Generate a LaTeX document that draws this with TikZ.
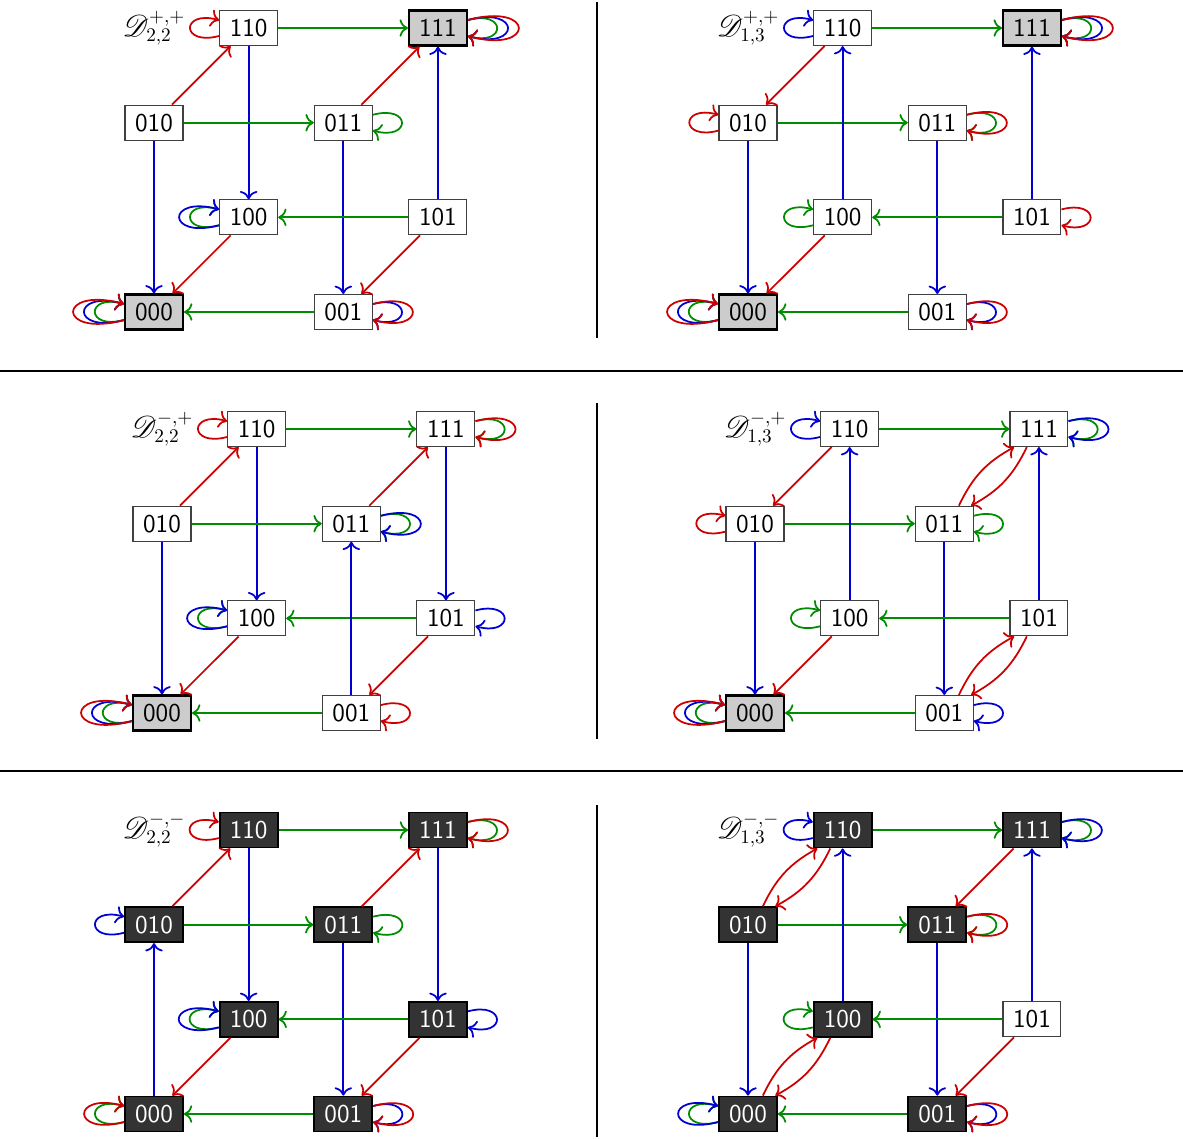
\documentclass[tikz,border=0pt]{standalone}
\usepackage{fontspec}
\usepackage{mathrsfs}
\usetikzlibrary{arrows.meta}
\definecolor{cR}{RGB}{204,0,0}
\definecolor{cG}{RGB}{0,140,0}
\definecolor{cB}{RGB}{0,0,210}
\newcommand\cubefont{\fontsize{14.6}{17}\selectfont\sffamily}
\newcommand\labfont{\fontsize{16}{19}\selectfont}
\newcommand\cubenodes[9]{%
 \node[#2] (#1000) at (0,0) {000};
 \node[#3] (#1001) at (2,0) {001};
 \node[#4] (#1010) at (0,2) {010};
 \node[#5] (#1011) at (2,2) {011};
 \node[#6] (#1100) at (1,1) {100};
 \node[#7] (#1101) at (3,1) {101};
 \node[#8] (#1110) at (1,3) {110};
 \node[#9] (#1111) at (3,3) {111};
}
\newcommand\cubeloopR[3]{\draw[#2] (#1.15) .. controls +(15:#3) and +(-15:#3) .. (#1.-15);}
\newcommand\cubeloopL[3]{\draw[#2] (#1.195) .. controls +(195:#3) and +(165:#3) .. (#1.165);}
\tikzset{
 nd/.style={draw=black!75, line width=0.6pt, fill=white, minimum width=1.16cm, minimum height=0.7cm, inner sep=0pt, font=\cubefont},
 fp/.style={nd, draw=black, line width=1.2pt, fill=black!20},
 dk/.style={nd, draw=black, line width=1pt, fill=black!80, text=white},
 lab/.style={font=\labfont, inner sep=0pt},
 E/.style={line width=1pt, -{To[scale=1.25]}},
 R/.style={E, draw=cR},
 G/.style={E, draw=cG},
 B/.style={E, draw=cB},
 sep/.style={line width=1.2pt, draw=black},
}
\begin{document}
\begin{tikzpicture}[x=0.02cm, y=-0.02cm]
\useasboundingbox (0,0) rectangle (1183,1139);
% separators
\draw[sep] (597,2) -- (597,338);
\draw[sep] (597,403) -- (597,739);
\draw[sep] (597,805) -- (597,1137);
\draw[sep] (0,371) -- (1183,371);
\draw[sep] (0,771) -- (1183,771);

% ---------- Panel 1 ----------
\begin{scope}[shift={(154,312)}, x=1.8934cm, y=1.8934cm]
\cubenodes{a}{fp}{nd}{nd}{nd}{nd}{nd}{nd}{fp}
\node[lab] (alab) at (0,3) {$\mathscr{D}^{+,+}_{2,2}$};
\draw[R] (a010) -- (a110);
\draw[G] (a110) -- (a111);
\draw[B] (a110) -- (a100);
\draw[G] (a010) -- (a011);
\draw[B] (a010) -- (a000);
\draw[R] (a011) -- (a111);
\draw[B] (a011) -- (a001);
\draw[R] (a100) -- (a000);
\draw[G] (a101) -- (a100);
\draw[B] (a101) -- (a111);
\draw[R] (a101) -- (a001);
\draw[G] (a001) -- (a000);
\cubeloopL{a110}{R}{0.8cm}
\cubeloopR{a111}{G}{0.8cm}\cubeloopR{a111}{B}{1.1cm}\cubeloopR{a111}{R}{1.4cm}
\cubeloopR{a011}{G}{0.8cm}
\cubeloopL{a100}{G}{0.8cm}\cubeloopL{a100}{B}{1.1cm}
\cubeloopL{a000}{G}{0.8cm}\cubeloopL{a000}{B}{1.1cm}\cubeloopL{a000}{R}{1.4cm}
\cubeloopR{a001}{B}{0.8cm}\cubeloopR{a001}{R}{1.1cm}
\end{scope}

% ---------- Panel 2 ----------
\begin{scope}[shift={(748,312)}, x=1.8934cm, y=1.8934cm]
\cubenodes{b}{fp}{nd}{nd}{nd}{nd}{nd}{nd}{fp}
\node[lab] (blab) at (0,3) {$\mathscr{D}^{+,+}_{1,3}$};
\draw[G] (b110) -- (b111);
\draw[R] (b110) -- (b010);
\draw[G] (b010) -- (b011);
\draw[B] (b010) -- (b000);
\draw[B] (b011) -- (b001);
\draw[B] (b100) -- (b110);
\draw[R] (b100) -- (b000);
\draw[G] (b101) -- (b100);
\draw[B] (b101) -- (b111);
\draw[G] (b001) -- (b000);
\cubeloopL{b110}{B}{0.8cm}
\cubeloopR{b111}{G}{0.8cm}\cubeloopR{b111}{B}{1.1cm}\cubeloopR{b111}{R}{1.4cm}
\cubeloopL{b010}{R}{0.8cm}
\cubeloopR{b011}{G}{0.8cm}\cubeloopR{b011}{R}{1.1cm}
\cubeloopL{b100}{G}{0.8cm}
\cubeloopR{b101}{R}{0.8cm}
\cubeloopL{b000}{G}{0.8cm}\cubeloopL{b000}{B}{1.1cm}\cubeloopL{b000}{R}{1.4cm}
\cubeloopR{b001}{B}{0.8cm}\cubeloopR{b001}{R}{1.1cm}
\end{scope}

% ---------- Panel 3 ----------
\begin{scope}[shift={(162,713)}, x=1.8934cm, y=1.8934cm]
\cubenodes{c}{fp}{nd}{nd}{nd}{nd}{nd}{nd}{nd}
\node[lab] (clab) at (0,3) {$\mathscr{D}^{-,+}_{2,2}$};
\draw[G] (c110) -- (c111);
\draw[B] (c110) -- (c100);
\draw[B] (c111) -- (c101);
\draw[R] (c010) -- (c110);
\draw[G] (c010) -- (c011);
\draw[B] (c010) -- (c000);
\draw[R] (c011) -- (c111);
\draw[R] (c100) -- (c000);
\draw[G] (c101) -- (c100);
\draw[R] (c101) -- (c001);
\draw[G] (c001) -- (c000);
\draw[B] (c001) -- (c011);
\cubeloopL{c110}{R}{0.8cm}
\cubeloopR{c111}{G}{0.8cm}\cubeloopR{c111}{R}{1.1cm}
\cubeloopR{c011}{G}{0.8cm}\cubeloopR{c011}{B}{1.1cm}
\cubeloopL{c100}{G}{0.8cm}\cubeloopL{c100}{B}{1.1cm}
\cubeloopR{c101}{B}{0.8cm}
\cubeloopL{c000}{G}{0.8cm}\cubeloopL{c000}{B}{1.1cm}\cubeloopL{c000}{R}{1.4cm}
\cubeloopR{c001}{R}{0.8cm}
\end{scope}

% ---------- Panel 4 ----------
\begin{scope}[shift={(755,713)}, x=1.8934cm, y=1.8934cm]
\cubenodes{d}{fp}{nd}{nd}{nd}{nd}{nd}{nd}{nd}
\node[lab] (dlab) at (0,3) {$\mathscr{D}^{-,+}_{1,3}$};
\draw[G] (d110) -- (d111);
\draw[R] (d110) -- (d010);
\draw[R] (d111.236) to[bend left=18] (d011.34);
\draw[G] (d010) -- (d011);
\draw[B] (d010) -- (d000);
\draw[R] (d011.51) to[bend left=18] (d111.216);
\draw[B] (d011) -- (d001);
\draw[B] (d100) -- (d110);
\draw[R] (d100) -- (d000);
\draw[G] (d101) -- (d100);
\draw[B] (d101) -- (d111);
\draw[R] (d101.236) to[bend left=18] (d001.34);
\draw[G] (d001) -- (d000);
\draw[R] (d001.51) to[bend left=18] (d101.216);
\cubeloopL{d110}{B}{0.8cm}
\cubeloopR{d111}{G}{0.8cm}\cubeloopR{d111}{B}{1.1cm}
\cubeloopL{d010}{R}{0.8cm}
\cubeloopR{d011}{G}{0.8cm}
\cubeloopL{d100}{G}{0.8cm}
\cubeloopL{d000}{G}{0.8cm}\cubeloopL{d000}{B}{1.1cm}\cubeloopL{d000}{R}{1.4cm}
\cubeloopR{d001}{B}{0.8cm}
\end{scope}

% ---------- Panel 5 ----------
\begin{scope}[shift={(154,1114)}, x=1.8934cm, y=1.8934cm]
\cubenodes{e}{dk}{dk}{dk}{dk}{dk}{dk}{dk}{dk}
\node[lab] (elab) at (0,3) {$\mathscr{D}^{-,-}_{2,2}$};
\draw[G] (e110) -- (e111);
\draw[B] (e110) -- (e100);
\draw[B] (e111) -- (e101);
\draw[R] (e010) -- (e110);
\draw[G] (e010) -- (e011);
\draw[R] (e011) -- (e111);
\draw[B] (e011) -- (e001);
\draw[R] (e100) -- (e000);
\draw[G] (e101) -- (e100);
\draw[R] (e101) -- (e001);
\draw[B] (e000) -- (e010);
\draw[G] (e001) -- (e000);
\cubeloopL{e110}{R}{0.8cm}
\cubeloopR{e111}{G}{0.8cm}\cubeloopR{e111}{R}{1.1cm}
\cubeloopL{e010}{B}{0.8cm}
\cubeloopR{e011}{G}{0.8cm}
\cubeloopL{e100}{G}{0.8cm}\cubeloopL{e100}{B}{1.1cm}
\cubeloopR{e101}{B}{0.8cm}
\cubeloopL{e000}{G}{0.8cm}\cubeloopL{e000}{R}{1.1cm}
\cubeloopR{e001}{B}{0.8cm}\cubeloopR{e001}{R}{1.1cm}
\end{scope}

% ---------- Panel 6 ----------
\begin{scope}[shift={(748,1114)}, x=1.8934cm, y=1.8934cm]
\cubenodes{f}{dk}{dk}{dk}{dk}{dk}{nd}{dk}{dk}
\node[lab] (flab) at (0,3) {$\mathscr{D}^{-,-}_{1,3}$};
\draw[G] (f110) -- (f111);
\draw[R] (f110.236) to[bend left=18] (f010.34);
\draw[R] (f111) -- (f011);
\draw[R] (f010.51) to[bend left=18] (f110.216);
\draw[G] (f010) -- (f011);
\draw[B] (f010) -- (f000);
\draw[B] (f011) -- (f001);
\draw[B] (f100) -- (f110);
\draw[R] (f100.236) to[bend left=18] (f000.34);
\draw[G] (f101) -- (f100);
\draw[B] (f101) -- (f111);
\draw[R] (f101) -- (f001);
\draw[R] (f000.51) to[bend left=18] (f100.216);
\draw[G] (f001) -- (f000);
\cubeloopL{f110}{B}{0.8cm}
\cubeloopR{f111}{G}{0.8cm}\cubeloopR{f111}{B}{1.1cm}
\cubeloopR{f011}{G}{0.8cm}\cubeloopR{f011}{R}{1.1cm}
\cubeloopL{f100}{G}{0.8cm}
\cubeloopL{f000}{G}{0.8cm}\cubeloopL{f000}{B}{1.1cm}
\cubeloopR{f001}{B}{0.8cm}\cubeloopR{f001}{R}{1.1cm}
\end{scope}
\end{tikzpicture}
\end{document}
